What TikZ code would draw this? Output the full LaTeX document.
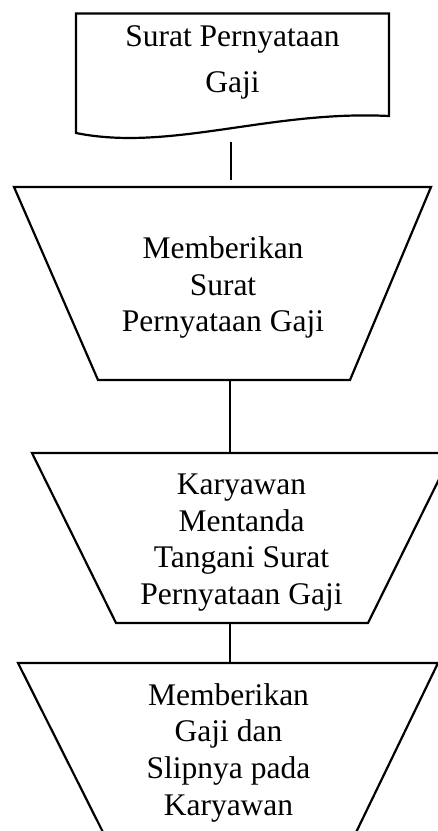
\documentclass[tikz,border=0pt]{standalone}
\usepackage{fontspec}
\setmainfont{Liberation Serif}
\begin{document}
\begin{tikzpicture}[x=1pt,y=-1pt,
  shapeline/.style={draw=black,line width=2.2pt,line join=miter},
  conn/.style={draw=black,line width=2.2pt},
  lbl/.style={align=center,inner sep=0pt,font=\fontsize{31.5}{36.7}\selectfont},
  lblwide/.style={align=center,inner sep=0pt,font=\fontsize{31.5}{46}\selectfont}]
\useasboundingbox (0,0) rectangle (438,831);
\clip (0,0) rectangle (438,831);
% document shape
\draw[shapeline] (76,13.5) -- (389,13.5) -- (389,116)
  .. controls (270,110) and (170,152) .. (76,133) -- cycle;
\node[lblwide] (doc) at (232.5,62.8) {Surat Pernyataan\\Gaji};
% trapezoid 1
\draw[shapeline] (14,187) -- (431,187) -- (350,380) -- (98,380) -- cycle;
\node[lbl] (t1) at (223,287.7) {Memberikan\\Surat\\Pernyataan Gaji};
% trapezoid 2
\draw[shapeline] (32,453) -- (452,453) -- (368,623) -- (116,623) -- cycle;
\node[lbl] (t2) at (241.5,542.5) {Karyawan\\Mentanda\\Tangani Surat\\Pernyataan Gaji};
% trapezoid 3 (cut off at the bottom)
\draw[shapeline] (18,663) -- (438,663) -- (333,880) -- (127,880) -- cycle;
\node[lbl] (t3) at (228.5,752.7) {Memberikan\\Gaji dan\\Slipnya pada\\Karyawan};
% connectors
\coordinate (c1a) at (231,142);
\coordinate (c1b) at (231,180);
\coordinate (c2a) at (230,380);
\coordinate (c2b) at (230,453);
\coordinate (c3a) at (230,623);
\coordinate (c3b) at (230,663);
\draw[conn] (c1a) -- (c1b);
\draw[conn] (c2a) -- (c2b);
\draw[conn] (c3a) -- (c3b);
\end{tikzpicture}
\end{document}
